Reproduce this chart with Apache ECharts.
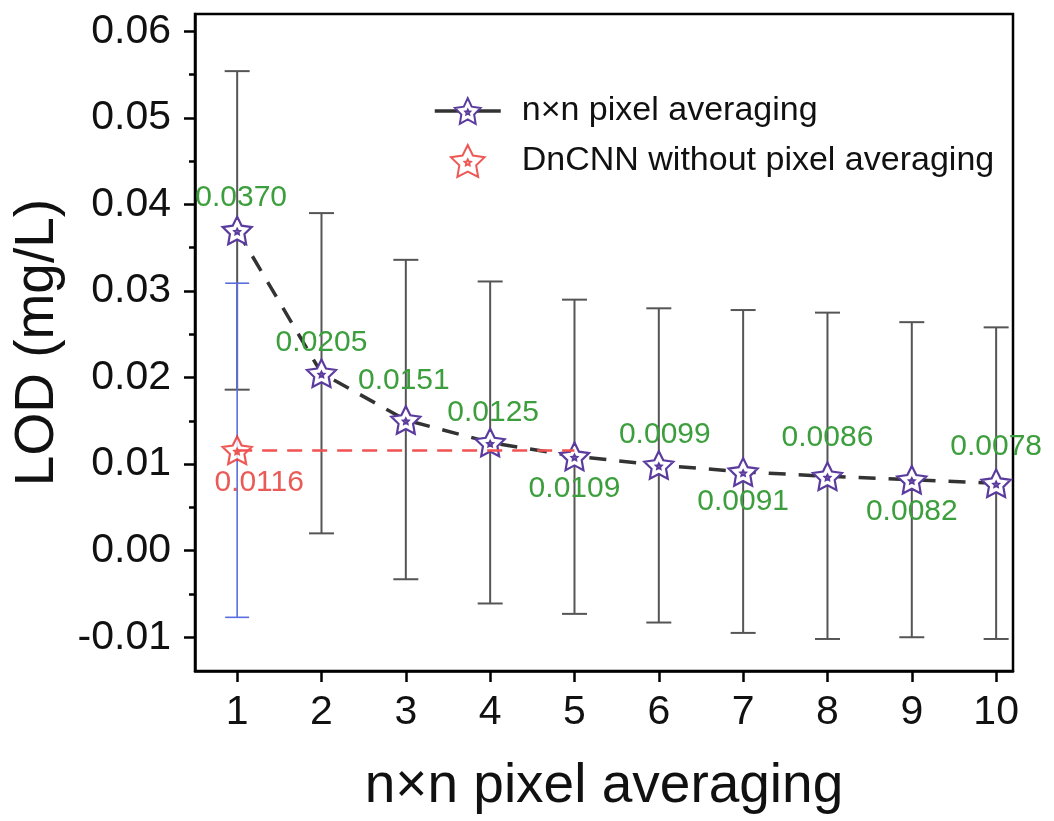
<!DOCTYPE html>
<html>
<head>
<meta charset="utf-8">
<script src="https://cdn.jsdelivr.net/npm/echarts@6/dist/echarts.min.js"></script>
<style>
html,body{margin:0;padding:0;background:#fff;}
#chart{width:1054px;height:821px;}
</style>
</head>
<body>
<div id="chart"></div>
<script>
// ---- data ----
const nValues = [1, 2, 3, 4, 5, 6, 7, 8, 9, 10];
const lodValues = [0.0370, 0.0205, 0.0151, 0.0125, 0.0109, 0.0099, 0.0091, 0.0086, 0.0082, 0.0078];
const errLow  = [0.0186, 0.0020, -0.0033, -0.0061, -0.0073, -0.0083, -0.0095, -0.0102, -0.0100, -0.0102];
const errHigh = [0.0554, 0.0390, 0.0336, 0.0311, 0.0290, 0.0280, 0.0278, 0.0275, 0.0264, 0.0258];
const dncnnX = 1;
const dncnnValue = 0.0116;
const dncnnLow = -0.0077;
const dncnnHigh = 0.0309;
const dncnnRefEndX = 5;
const yTicks = [-0.01, 0.00, 0.01, 0.02, 0.03, 0.04, 0.05, 0.06];
const yMinorTicks = [-0.005, 0.005, 0.015, 0.025, 0.035, 0.045, 0.055];
const xTicks = [1, 2, 3, 4, 5, 6, 7, 8, 9, 10];
const seriesNames = ['n×n pixel averaging', 'DnCNN without pixel averaging'];

// ---- label placement (style only) ----
const labelOffsets = [[4,-33],[0,-30],[-2,-39],[3,-30],[0,32],[6,-30],[0,30],[0,-39],[0,32],[0,-36]];
const dncnnLabelOffset = [22, 32];

const FONT = "'Liberation Sans', Arial, Helvetica, sans-serif";
const STAR = 'path://M50 0 L64.7 29.8 L97.6 34.5 L73.8 57.7 L79.4 90.5 L50 75 L20.6 90.5 L26.2 57.7 L2.4 34.5 L35.3 29.8 Z ' +
  'M50 41 L52.65 46.36 L58.56 47.22 L54.28 51.39 L55.29 57.28 L50 54.5 L44.71 57.28 L45.72 51.39 L41.44 47.22 L47.35 46.36 Z';

function errorBarRenderer(color, width, halfCap) {
  return function (params, api) {
    const x = api.value(0);
    const lo = api.coord([x, api.value(1)]);
    const hi = api.coord([x, api.value(2)]);
    const st = { stroke: color, lineWidth: width };
    return {
      type: 'group',
      children: [
        { type: 'line', shape: { x1: hi[0], y1: hi[1], x2: lo[0], y2: lo[1] }, style: st },
        { type: 'line', shape: { x1: hi[0] - halfCap, y1: hi[1], x2: hi[0] + halfCap, y2: hi[1] }, style: st },
        { type: 'line', shape: { x1: lo[0] - halfCap, y1: lo[1], x2: lo[0] + halfCap, y2: lo[1] }, style: st }
      ]
    };
  };
}

const chart = echarts.init(document.getElementById('chart'), null, { renderer: 'canvas' });

const option = {
  backgroundColor: '#fff',
  animation: false,
  textStyle: { fontFamily: FONT },
  grid: {
    left: 195, right: 41, top: 14, bottom: 150,
    show: true, borderColor: '#000', borderWidth: 2.5, backgroundColor: 'transparent'
  },
  legend: {
    data: seriesNames,
    orient: 'vertical',
    left: 428, top: 89,
    itemWidth: 66, itemHeight: 32, itemGap: 16,
    lineStyle: { type: 'solid', width: 3.5, color: '#333' },
    textStyle: { fontSize: 34, color: '#111', fontFamily: FONT, padding: [0, 0, 0, 16] }
  },
  xAxis: {
    type: 'value',
    min: 0.5, max: 10.2,
    name: 'n×n pixel averaging',
    nameLocation: 'middle',
    nameGap: 88,
    nameTextStyle: { fontSize: 55, color: '#111', fontFamily: FONT },
    axisLine: { show: true, onZero: false, lineStyle: { color: '#000', width: 2.5 } },
    axisTick: { show: true, inside: false, length: 11, customValues: xTicks, lineStyle: { color: '#000', width: 2.5 } },
    axisLabel: { customValues: xTicks, margin: 21, fontSize: 41, color: '#111', fontFamily: FONT,
      formatter: v => String(Math.round(v)) },
    splitLine: { show: false }
  },
  yAxis: [
    {
      type: 'value',
      min: -0.0139, max: 0.0620,
      name: 'LOD (mg/L)',
      nameLocation: 'middle',
      nameGap: 130,
      nameTextStyle: { fontSize: 55, color: '#111', fontFamily: FONT },
      axisLine: { show: true, lineStyle: { color: '#000', width: 2.5 } },
      axisTick: { show: true, inside: false, length: 11, customValues: yTicks, lineStyle: { color: '#000', width: 2.5 } },
      axisLabel: { customValues: yTicks, margin: 24, fontSize: 41, color: '#111', fontFamily: FONT,
        formatter: v => v.toFixed(2) },
      splitLine: { show: false }
    },
    {
      type: 'value',
      min: -0.0139, max: 0.0620,
      position: 'left',
      axisLine: { show: false },
      axisTick: { show: true, inside: false, length: 6, customValues: yMinorTicks, lineStyle: { color: '#000', width: 2.5 } },
      axisLabel: { show: false },
      splitLine: { show: false }
    }
  ],
  series: [
    {
      name: 'errN',
      type: 'custom',
      z: 1,
      renderItem: errorBarRenderer('#555', 2, 12.5),
      data: nValues.map((x, i) => [x, errLow[i], errHigh[i]]),
      encode: { x: 0, y: [1, 2] },
      silent: true
    },
    {
      name: 'errD',
      type: 'custom',
      z: 1,
      renderItem: errorBarRenderer('#5b6ee0', 1.6, 12),
      data: [[dncnnX, dncnnLow, dncnnHigh]],
      encode: { x: 0, y: [1, 2] },
      silent: true
    },
    {
      name: seriesNames[1],
      type: 'scatter',
      z: 3,
      symbol: STAR,
      symbolSize: 29,
      symbolKeepAspect: true,
      itemStyle: { color: '#fff', borderColor: '#e8302c', borderWidth: 2.2 },
      data: [{
        value: [dncnnX, dncnnValue],
        label: { offset: dncnnLabelOffset }
      }],
      label: {
        show: true, position: 'inside', color: '#e3322c', fontSize: 30, fontFamily: FONT,
        formatter: p => p.value[1].toFixed(4)
      },
      markLine: {
        silent: true,
        symbol: ['none', 'none'],
        label: { show: false },
        lineStyle: { color: '#f25252', width: 2.5, type: [15, 10] },
        data: [[{ coord: [dncnnX, dncnnValue] }, { coord: [dncnnRefEndX, dncnnValue] }]]
      }
    },
    {
      name: seriesNames[0],
      type: 'line',
      z: 4,
      symbol: STAR,
      symbolSize: 29,
      symbolKeepAspect: true,
      itemStyle: { color: '#fff', borderColor: '#5b3c9e', borderWidth: 2.2 },
      lineStyle: { color: '#333', width: 3.5, type: [17, 13] },
      data: nValues.map((x, i) => ({
        value: [x, lodValues[i]],
        label: { offset: labelOffsets[i] }
      })),
      label: {
        show: true, position: 'inside', color: '#3c9e3c', fontSize: 30, fontFamily: FONT,
        formatter: p => p.value[1].toFixed(4)
      }
    }
  ]
};
chart.setOption(option);
</script>
</body>
</html>
